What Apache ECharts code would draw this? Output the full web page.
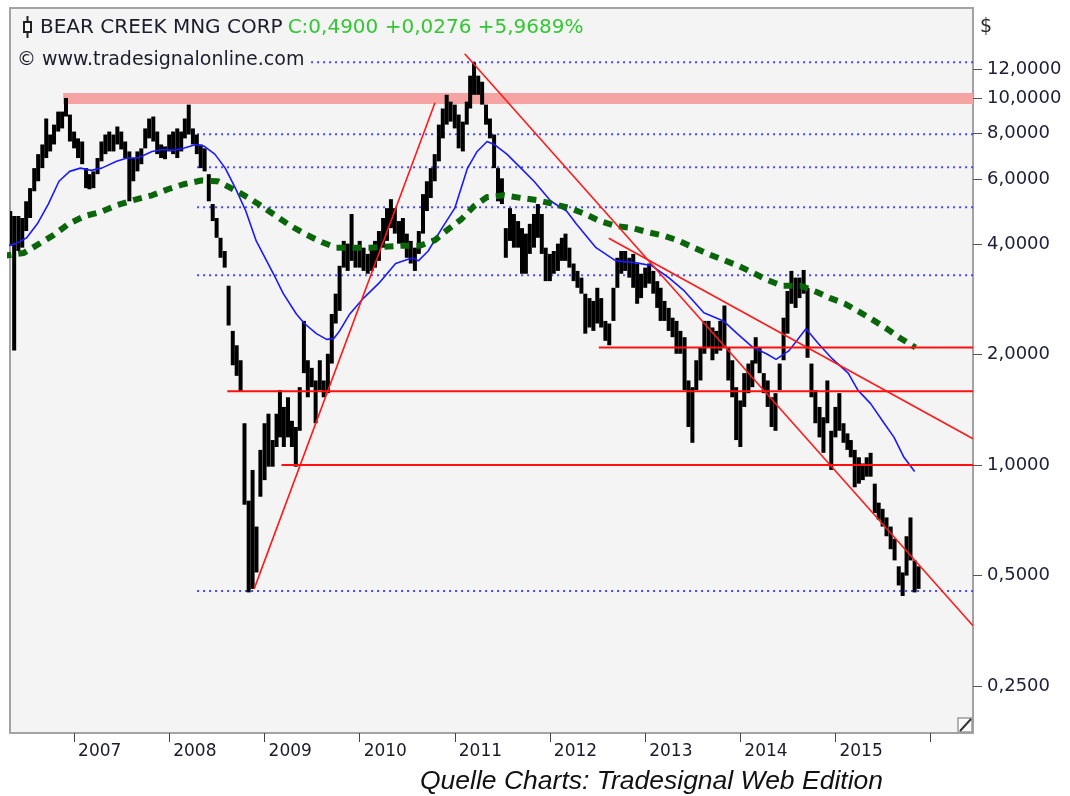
<!DOCTYPE html>
<html>
<head>
<meta charset="utf-8">
<title>Bear Creek Mng Corp</title>
<script src="https://cdn.jsdelivr.net/npm/echarts@6/dist/echarts.min.js"></script>
<style>
  html, body { margin: 0; padding: 0; background: #fff; }
  #main { width: 1070px; height: 796px; }
</style>
</head>
<body>
<div id="main"></div>
<script>
// price bars, one every half month (1st and 16th) starting April 2006
const barStart = [2006, 4];
const barHigh = [
  // 2006 (Apr - Dec)
  5.30, 5.23, 4.92, 4.77, 4.77, 4.71, 5.23, 5.68, 6.44, 7.03, 7.47, 8.79, 7.95, 8.46, 9.18, 9.18, 10.0, 9.01,
  // 2007
  8.10, 7.76, 7.61, 6.44, 6.20, 6.31, 6.86, 7.61, 7.95, 8.10, 7.95, 8.36, 8.10, 7.61, 7.15, 6.86, 7.15, 7.29, 8.26, 8.79, 8.90, 8.10, 7.47, 7.38,
  // 2008
  7.95, 8.10, 8.26, 8.10, 8.79, 9.59, 8.26, 7.95, 7.47, 7.29, 6.20, 5.14, 4.71, 4.16, 3.83, 3.08, 2.32, 2.12, 1.93, 1.30, 0.80, 0.97, 0.68, 1.10,
  // 2009
  1.30, 1.38, 1.17, 1.38, 1.60, 1.44, 1.53, 1.32, 1.27, 1.63, 2.47, 1.93, 1.84, 1.70, 1.93, 1.70, 2.01, 2.58, 2.93, 3.49, 4.08, 4.01, 4.83, 3.91,
  // 2010
  4.08, 3.91, 3.76, 3.91, 4.08, 4.34, 4.71, 5.01, 5.30, 5.01, 4.62, 4.71, 4.27, 4.08, 3.91, 4.34, 5.47, 5.93, 6.44, 7.03, 8.46, 9.36, 10.2, 9.77,
  // 2011
  9.59, 9.01, 8.62, 9.77, 11.5, 12.5, 11.5, 11.07, 9.59, 8.79, 7.95, 6.44, 6.04, 4.42, 5.01, 4.83, 4.62, 4.42, 4.27, 4.54, 4.83, 5.14, 4.83, 3.91,
  // 2012
  3.76, 3.83, 4.01, 4.16, 4.27, 3.91, 3.54, 3.38, 3.24, 2.93, 2.85, 2.80, 3.04, 2.85, 2.47, 2.43, 3.04, 3.67, 3.83, 3.83, 3.67, 3.76, 3.54, 3.32,
  // 2013
  3.45, 3.54, 3.38, 3.17, 3.04, 2.80, 2.68, 2.52, 2.47, 2.32, 2.23, 1.70, 1.63, 1.93, 2.09, 2.47, 2.47, 2.37, 2.32, 2.47, 2.72, 2.09, 1.93, 1.63,
  // 2014
  1.50, 1.78, 1.89, 1.93, 2.23, 2.09, 1.78, 1.70, 1.53, 1.57, 1.89, 2.52, 2.98, 3.38, 3.24, 3.24, 3.40, 3.04, 1.89, 1.60, 1.44, 1.35, 1.70, 1.24,
  // 2015 (Jan - Nov)
  1.44, 1.57, 1.30, 1.22, 1.17, 1.10, 1.05, 1.01, 1.05, 1.08, 0.89, 0.79, 0.76, 0.72, 0.68, 0.63, 0.53, 0.51, 0.64, 0.72, 0.55, 0.53
];
const barLow = [
  // 2006
  4.08, 4.21, 3.96, 2.05, 3.83, 3.91, 4.34, 4.71, 5.57, 5.93, 6.44, 6.86, 7.15, 7.47, 8.10, 8.26, 8.90, 7.61,
  // 2007
  7.29, 6.86, 6.60, 5.68, 5.64, 5.68, 6.20, 6.72, 7.03, 7.15, 7.15, 7.47, 7.24, 6.86, 5.23, 5.93, 6.31, 6.60, 7.29, 7.76, 7.61, 7.03, 6.86, 6.81,
  // 2008
  7.15, 7.03, 6.86, 7.15, 7.76, 7.95, 7.47, 7.03, 6.44, 6.31, 5.23, 4.62, 4.16, 3.67, 3.45, 2.40, 1.87, 1.75, 1.59, 0.78, 0.45, 0.46, 0.51, 0.82,
  // 2009
  0.91, 0.99, 0.99, 1.12, 1.19, 1.12, 1.19, 1.12, 0.99, 1.24, 1.78, 1.53, 1.63, 1.30, 1.60, 1.53, 1.57, 1.89, 2.43, 2.63, 3.45, 3.38, 3.60, 3.45,
  // 2010
  3.45, 3.38, 3.32, 3.38, 3.45, 3.60, 3.91, 4.08, 4.42, 4.27, 4.01, 3.91, 3.67, 3.54, 3.38, 3.76, 4.27, 4.92, 5.34, 5.93, 6.72, 7.76, 8.46, 8.62,
  // 2011
  8.26, 7.29, 7.15, 8.46, 9.36, 10.2, 10.2, 9.59, 8.46, 7.76, 6.44, 5.23, 5.14, 3.67, 4.08, 3.91, 3.91, 3.32, 3.32, 3.76, 3.91, 4.16, 3.76, 3.17,
  // 2012
  3.17, 3.32, 3.38, 3.60, 3.60, 3.45, 3.17, 3.04, 2.93, 2.28, 2.37, 2.32, 2.43, 2.37, 2.18, 2.12, 2.47, 3.04, 3.32, 3.38, 3.24, 3.04, 2.75, 2.85,
  // 2013
  3.04, 3.12, 2.93, 2.68, 2.47, 2.47, 2.32, 2.23, 2.01, 2.01, 1.60, 1.27, 1.15, 1.60, 1.70, 2.01, 2.09, 1.93, 2.01, 2.05, 2.09, 1.70, 1.53, 1.17,
  // 2014
  1.12, 1.44, 1.57, 1.63, 1.89, 1.78, 1.57, 1.44, 1.27, 1.24, 1.60, 1.93, 2.28, 2.75, 2.68, 2.85, 2.93, 1.96, 1.53, 1.30, 1.19, 1.08, 1.30, 0.97,
  // 2015
  1.19, 1.24, 1.15, 1.10, 1.05, 0.87, 0.89, 0.91, 0.93, 0.93, 0.74, 0.71, 0.68, 0.64, 0.59, 0.55, 0.47, 0.44, 0.50, 0.55, 0.45, 0.46
];

// blue moving average
const maFast = [
  ['2006-04-01', 3.93], ['2006-05-23', 4.01], ['2006-07-03', 4.16], ['2006-08-13', 4.54], ['2006-09-24', 5.14],
  ['2006-11-04', 5.93], ['2006-12-15', 6.31], ['2007-01-25', 6.44], ['2007-03-07', 6.35], ['2007-04-17', 6.44],
  ['2007-06-13', 6.72], ['2007-07-24', 6.86], ['2007-09-03', 6.86], ['2007-10-27', 7.15], ['2007-12-07', 7.24],
  ['2008-01-16', 7.20], ['2008-02-25', 7.29], ['2008-04-13', 7.47], ['2008-05-15', 7.38], ['2008-06-24', 7.03],
  ['2008-08-03', 6.44], ['2008-09-11', 5.68], ['2008-10-21', 4.92], ['2008-11-30', 4.08], ['2009-02-04', 3.32],
  ['2009-03-14', 2.93], ['2009-05-03', 2.58], ['2009-06-03', 2.43], ['2009-07-19', 2.28], ['2009-08-27', 2.20],
  ['2009-09-23', 2.21], ['2009-10-16', 2.32], ['2009-11-24', 2.58], ['2010-01-16', 2.85], ['2010-03-16', 3.13],
  ['2010-05-19', 3.54], ['2010-07-23', 3.67], ['2010-08-14', 3.60], ['2010-09-21', 3.83], ['2010-11-13', 4.42],
  ['2011-01-01', 5.01], ['2011-02-19', 6.44], ['2011-03-28', 7.15], ['2011-05-05', 7.61], ['2011-06-01', 7.47],
  ['2011-07-20', 7.03], ['2011-09-12', 6.44], ['2011-11-01', 5.93], ['2012-01-05', 5.23], ['2012-03-05', 4.92],
  ['2012-04-11', 4.54], ['2012-06-26', 3.91], ['2012-09-10', 3.60], ['2012-11-24', 3.56], ['2013-01-27', 3.49],
  ['2013-04-01', 3.24], ['2013-05-31', 2.98], ['2013-08-14', 2.60], ['2013-10-28', 2.47], ['2013-12-20', 2.28],
  ['2014-02-19', 2.09], ['2014-04-11', 2.01], ['2014-05-18', 1.94], ['2014-07-07', 2.05], ['2014-09-10', 2.35],
  ['2014-10-28', 2.14], ['2014-12-16', 1.96], ['2015-02-19', 1.78], ['2015-03-28', 1.60], ['2015-05-16', 1.47],
  ['2015-07-07', 1.30], ['2015-08-14', 1.19], ['2015-09-21', 1.05], ['2015-11-01', 0.96]
];

// green dotted moving average
const maSlow = [
  ['2006-04-01', 3.71], ['2006-06-21', 3.78], ['2006-08-13', 3.98], ['2006-10-14', 4.23], ['2006-12-11', 4.54],
  ['2007-02-11', 4.77], ['2007-04-13', 4.89], ['2007-06-13', 5.10], ['2007-08-17', 5.27], ['2007-10-27', 5.43],
  ['2007-12-27', 5.64], ['2008-02-25', 5.82], ['2008-05-03', 5.96], ['2008-07-05', 5.93], ['2008-09-03', 5.64],
  ['2008-11-02', 5.34], ['2008-12-27', 5.04], ['2009-04-05', 4.51], ['2009-06-03', 4.27], ['2009-08-08', 4.05],
  ['2009-10-04', 3.91], ['2010-02-07', 3.91], ['2010-06-15', 3.96], ['2010-08-21', 3.96], ['2010-10-17', 4.10],
  ['2010-12-05', 4.38], ['2011-01-27', 4.68], ['2011-03-17', 5.08], ['2011-05-05', 5.37], ['2011-07-09', 5.43],
  ['2011-09-12', 5.34], ['2011-11-12', 5.27], ['2012-01-16', 5.14], ['2012-03-19', 5.01], ['2012-05-15', 4.83],
  ['2012-07-11', 4.62], ['2012-09-10', 4.48], ['2012-11-13', 4.42], ['2013-01-16', 4.30], ['2013-03-16', 4.21],
  ['2013-05-11', 4.08], ['2013-07-07', 3.91], ['2013-08-29', 3.76], ['2013-10-28', 3.62], ['2013-12-24', 3.49],
  ['2014-02-19', 3.34], ['2014-04-15', 3.19], ['2014-06-11', 3.08], ['2014-08-21', 3.08], ['2014-10-21', 2.96],
  ['2014-12-12', 2.85], ['2015-02-07', 2.75], ['2015-04-04', 2.61], ['2015-05-23', 2.49], ['2015-07-18', 2.35],
  ['2015-09-06', 2.22], ['2015-11-04', 2.09]
];

const xStart = '2006-04-30';
const xEnd = '2016-06-12';

// red trend lines: [from date, from value, to date, to value]
const trendLines = [
  ['2008-11-22', 0.46, '2010-10-17', 9.7],
  ['2011-02-08', 13.2, xEnd, 0.365],
  ['2012-08-14', 4.15, xEnd, 1.18]
];
// red horizontal lines: [from date, value]
const supportLines = [['2012-07-07', 2.09], ['2008-08-11', 1.59], ['2009-03-07', 1.00]];
// blue dotted levels
const levelStart = '2008-04-17';
const levels = [12.5, 7.97, 6.48, 5.04, 3.29, 0.454];
// pink resistance zone
const zone = ['2006-11-20', 9.63, 10.31];

const yTicks = [0.25, 0.5, 1, 2, 4, 6, 8, 10, 12];
const lastYearLabel = 2015;

// dates of the bars
const barDates = barHigh.map((v, i) => {
  const m = barStart[1] - 1 + Math.floor(i / 2);
  const y = barStart[0] + Math.floor(m / 12);
  const mm = String(m % 12 + 1).padStart(2, '0');
  return y + '-' + mm + (i % 2 ? '-16' : '-01');
});
const bars = barDates.map((d, i) => [d, barLow[i], barHigh[i]]);

const font = '"DejaVu Sans", Verdana, sans-serif';
const year = 365.25 * 24 * 3600 * 1000;
const chart = echarts.init(document.getElementById('main'));

const lineSeries = (data, style, z) => ({
  type: 'line', data: data, symbol: 'none', silent: true, z: z,
  lineStyle: style, clip: true
});

chart.setOption({
  animation: false,
  backgroundColor: '#ffffff',
  grid: {
    left: 10, right: 97, top: 8, bottom: 63,
    show: true, backgroundColor: '#f4f4f4', borderColor: '#a3a3a3', borderWidth: 2
  },
  title: [
    {
      text: '{a|BEAR CREEK MNG CORP} {b|C:0,4900 +0,0276 +5,9689%}',
      left: 40, top: 18, padding: 0,
      textStyle: {
        fontWeight: 'normal',
        rich: {
          a: { fontFamily: font, fontSize: 20, fontWeight: 'normal', color: '#1c1c2c' },
          b: { fontFamily: font, fontSize: 20, fontWeight: 'normal', color: '#33c733' }
        }
      }
    },
    {
      text: '© www.tradesignalonline.com',
      left: 15, top: 51, padding: [0, 3, 0, 2], backgroundColor: '#f4f4f4',
      textStyle: { fontFamily: font, fontSize: 19, fontWeight: 'normal', color: '#1c1c2c' }
    },
    {
      text: 'Quelle Charts: Tradesignal Web Edition',
      left: 420, top: 768, padding: 0,
      textStyle: { fontFamily: '"Liberation Sans", Arial, sans-serif', fontSize: 26.5,
        fontStyle: 'italic', fontWeight: 'normal', color: '#111' }
    }
  ],
  graphic: [
    { type: 'rect', shape: { x: 11, y: 12, width: 574, height: 25 }, style: { fill: '#fbfbfb' }, z: -1 },
    { type: 'line', shape: { x1: 27.5, y1: 16, x2: 27.5, y2: 38 }, style: { stroke: '#222', lineWidth: 2 }, z: 10 },
    { type: 'rect', shape: { x: 24, y: 22, width: 7, height: 10 }, style: { fill: '#fbfbfb', stroke: '#222', lineWidth: 2 }, z: 11 },
    { type: 'text', style: { text: '$', x: 980, y: 18, font: '19px ' + font, fill: '#2a2a2a' } },
    { type: 'rect', shape: { x: 958, y: 718, width: 14, height: 14 }, style: { fill: '#fdfdfd', stroke: '#9a9a9a', lineWidth: 1.5 }, z: 10 },
    { type: 'line', shape: { x1: 960, y1: 731, x2: 971, y2: 719 }, style: { stroke: '#333', lineWidth: 2 }, z: 11 }
  ],
  xAxis: {
    type: 'time',
    min: xStart, max: xEnd,
    minInterval: year, maxInterval: year,
    axisLine: { show: false },
    splitLine: { show: false },
    axisTick: { show: true, length: 9, lineStyle: { color: '#444' } },
    axisLabel: {
      formatter: v => {
        const y = new Date(v).getFullYear();
        return y > lastYearLabel ? '' : String(y);
      },
      showMinLabel: false, showMaxLabel: false,
      align: 'left', margin: 10, padding: [0, 0, 0, 4],
      fontFamily: font, fontSize: 17, color: '#1c1c2c'
    }
  },
  yAxis: {
    type: 'log', logBase: 2,
    position: 'right',
    min: 0.1863, max: 17.58,
    axisLine: { show: false },
    splitLine: { show: false },
    axisTick: { show: true, customValues: yTicks, length: 9, lineStyle: { color: '#555' } },
    axisLabel: {
      customValues: yTicks,
      formatter: v => v.toFixed(4).replace('.', ','),
      margin: 14, fontFamily: font, fontSize: 18, color: '#20203a'
    }
  },
  series: [
    {
      type: 'custom', name: 'zone', silent: true, z: 1, clip: true,
      data: [[zone[0], zone[1], zone[2], xEnd]],
      renderItem: (params, api) => {
        const p1 = api.coord([api.value(0), api.value(2)]);
        const p2 = api.coord([api.value(3), api.value(1)]);
        return { type: 'rect', shape: { x: p1[0], y: p1[1], width: p2[0] - p1[0], height: p2[1] - p1[1] },
          style: { fill: '#f6a3a3' } };
      }
    },
    ...levels.map(v => lineSeries([[levelStart, v], [xEnd, v]],
      { color: '#4646ff', width: 2, type: [2, 4] }, 2)),
    {
      type: 'custom', name: 'BEAR CREEK MNG CORP', silent: true, z: 3, clip: true,
      data: bars,
      encode: { x: 0, y: [1, 2] },
      renderItem: (params, api) => {
        const lo = api.coord([api.value(0), api.value(1)]);
        const hi = api.coord([api.value(0), api.value(2)]);
        return { type: 'rect', shape: { x: lo[0] - 2, y: hi[1], width: 4, height: Math.max(lo[1] - hi[1], 2) },
          style: { fill: '#000' } };
      }
    },
    lineSeries(maFast, { color: '#1a1aff', width: 1.6 }, 4),
    lineSeries(maSlow, { color: '#0b660b', width: 6, type: [9, 7], cap: 'butt' }, 4),
    ...supportLines.map(l => lineSeries([[l[0], l[1]], [xEnd, l[1]]], { color: '#ff1010', width: 2 }, 5)),
    ...trendLines.map(l => lineSeries([[l[0], l[1]], [l[2], l[3]]], { color: '#ff1a1a', width: 1.6 }, 5))
  ]
});
</script>
</body>
</html>
